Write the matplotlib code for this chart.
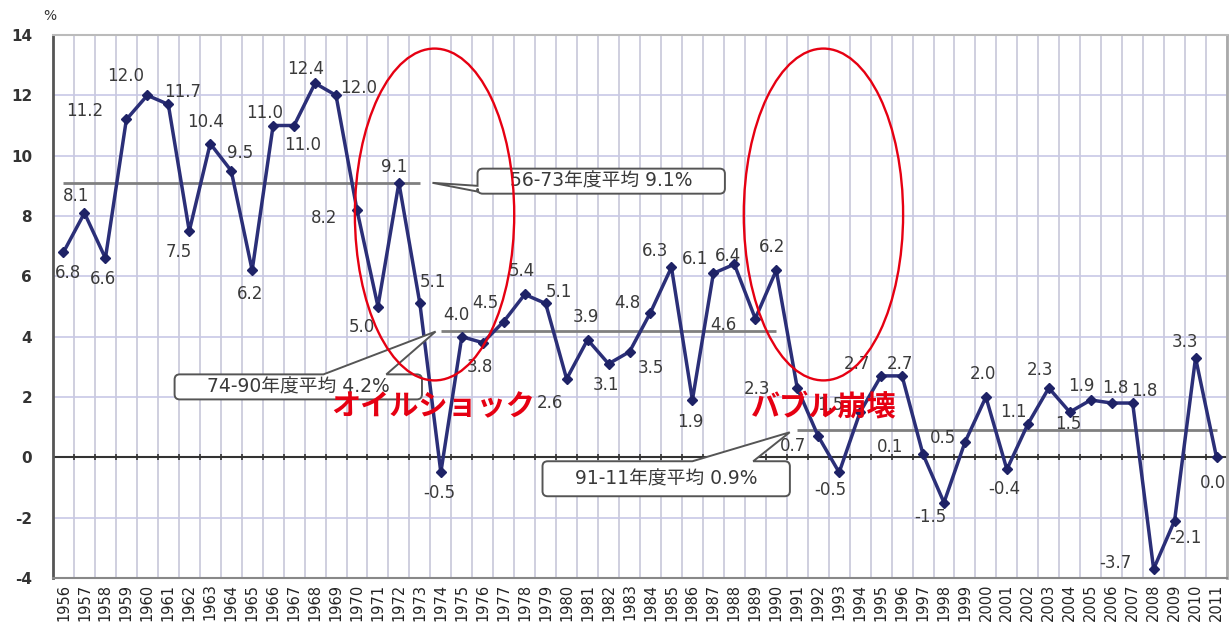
import matplotlib
matplotlib.use("Agg")
import matplotlib.pyplot as plt
from matplotlib.patches import Ellipse, PathPatch
from matplotlib.path import Path
import numpy as np

# Real GDP growth rate by fiscal year (%)
years = list(range(1956, 2012))
growth = [6.8, 8.1, 6.6, 11.2, 12.0, 11.7, 7.5, 10.4, 9.5, 6.2,
          11.0, 11.0, 12.4, 12.0, 8.2, 5.0, 9.1, 5.1, -0.5, 4.0,
          3.8, 4.5, 5.4, 5.1, 2.6, 3.9, 3.1, 3.5, 4.8, 6.3,
          1.9, 6.1, 6.4, 4.6, 6.2, 2.3, 0.7, -0.5, 1.5, 2.7,
          2.7, 0.1, -1.5, 0.5, 2.0, -0.4, 1.1, 2.3, 1.5, 1.9,
          1.8, 1.8, -3.7, -2.1, 3.3, 0.0]

# Period averages
period_start = [1956, 1974, 1991]
period_end = [1973, 1990, 2011]
period_mean = [9.1, 4.2, 0.9]

y_ticks = [-4, -2, 0, 2, 4, 6, 8, 10, 12, 14]
events = ["オイルショック", "バブル崩壊"]

# Value label offsets in pixels (right, down)
label_offsets = [(5, 21), (-8, -17), (-2, 21), (-42, -8), (-22, -19), (14, -12), (-11, 21), (-5, -22), (9, -18), (-2, 24),
                 (-8, -13), (9, 20), (-9, -14), (23, -7), (-33, 8), (-16, 21), (-5, -16), (13, -21), (-2, 21), (-5, -22),
                 (-3, 24), (-18, -19), (-3, -23), (13, -11), (-17, 24), (-2, -23), (-3, 21), (21, 16), (-23, -10), (-16, -16),
                 (-2, 22), (-18, -14), (-6, -8), (-32, 6), (-4, -23), (-40, 1), (-25, 10), (-9, 18), (-30, -7), (-24, -12),
                 (-2, -12), (-33, -7), (-14, 14), (-22, -4), (-3, -23), (-3, 20), (-14, -12), (-9, -18), (-1, 12), (-9, -14),
                 (4, -15), (12, -12), (-38, -6), (11, 17), (-11, -16), (-4, 26)]

CJK = ["DejaVu Sans", "Noto Sans CJK JP"]
TEXT = "#3a3a3a"

fig = plt.figure(figsize=(12.32, 6.23), dpi=100)
ax = fig.add_axes([53 / 1232, 1 - 578 / 623, (1227 - 53) / 1232, (578 - 35) / 623])
ax.set_xlim(years[0] - 0.5, years[-1] + 0.5)
ax.set_ylim(y_ticks[0], y_ticks[-1])

# grid
bounds = np.arange(years[0] - 0.5, years[-1] + 1.0, 1.0)
ax.set_xticks(years)
ax.set_xticklabels([str(y) for y in years], rotation=90, fontsize=10.5,
                   color="#222222", family="DejaVu Sans")
ax.set_xticks(bounds, minor=True)
ax.set_yticks(y_ticks)
ax.set_yticklabels([str(v) for v in y_ticks], fontsize=11, fontweight="bold",
                   color="#333333")
ax.tick_params(axis="both", which="both", length=0)
ax.tick_params(axis="x", pad=4)
ax.tick_params(axis="y", pad=15)
ax.grid(True, axis="x", which="minor", color="#c2c2d6", lw=1.1)
ax.grid(True, axis="y", which="major", color="#c8c8e6", lw=1.2)
ax.set_axisbelow(True)

for side, col, lw in [("left", "#555555", 2.0), ("bottom", "#888888", 1.5),
                      ("top", "#bbbbbb", 1.5), ("right", "#aaaaaa", 2.0)]:
    ax.spines[side].set_color(col)
    ax.spines[side].set_linewidth(lw)

# zero line with small ticks
ax.axhline(0, color="#333333", lw=1.5, zorder=2)
ax.plot(bounds[1:-1], np.zeros(len(bounds) - 2), ls="none", marker="|",
        ms=5, mew=1.2, color="#333333", zorder=2)

# period average lines
for s, e, m in zip(period_start, period_end, period_mean):
    ax.hlines(m, s, e, color="#808080", lw=2, zorder=2)

# growth series
ax.plot(years, growth, color="#2b2f78", lw=2.5, marker="D", ms=5,
        mfc="#1e2266", mec="#1e2266", zorder=4)

for yr, v, (dx, dy) in zip(years, growth, label_offsets):
    ax.annotate(f"{v:.1f}", (yr, v), xytext=(dx, -dy), textcoords="offset pixels",
                ha="center", va="center", fontsize=12, color=TEXT,
                family="DejaVu Sans", zorder=5)


def callout(x0, x1, y0, y1, side, b0, b1, tip, text):
    rx, ry = 0.25, 0.17
    verts = [(x0 + rx, y0), (x1 - rx, y0), (x1, y0), (x1, y0 + ry),
             (x1, y1 - ry), (x1, y1), (x1 - rx, y1)]
    codes = [Path.MOVETO, Path.LINETO, Path.CURVE3, Path.CURVE3,
             Path.LINETO, Path.CURVE3, Path.CURVE3]
    if side == "top":
        verts += [(b1, y1), tip, (b0, y1)]
        codes += [Path.LINETO] * 3
    verts += [(x0 + rx, y1), (x0, y1), (x0, y1 - ry)]
    codes += [Path.LINETO, Path.CURVE3, Path.CURVE3]
    if side == "left":
        verts += [(x0, b1), tip, (x0, b0)]
        codes += [Path.LINETO] * 3
    verts += [(x0, y0 + ry), (x0, y0), (x0 + rx, y0), (x0 + rx, y0)]
    codes += [Path.LINETO, Path.CURVE3, Path.CURVE3, Path.CLOSEPOLY]
    ax.add_patch(PathPatch(Path(verts, codes), fc="white", ec="#555555",
                           lw=1.4, zorder=6))
    ax.text((x0 + x1) / 2, (y0 + y1) / 2, text, ha="center", va="center",
            fontsize=13.5, color=TEXT, family=CJK, zorder=7)


texts = [f"{s % 100:02d}-{e % 100:02d}年度平均 {m}%"
         for s, e, m in zip(period_start, period_end, period_mean)]
callout(1975.75, 1987.55, 8.74, 9.57, "left", 8.81, 9.0, (1973.6, 9.1), texts[0])
callout(1961.3, 1973.1, 1.92, 2.75, "top", 1968.4, 1971.4, (1973.75, 4.17), texts[1])
callout(1978.85, 1990.65, -1.29, -0.13, "top", 1986.0, 1988.9, (1990.64, 0.83), texts[2])

# highlighted periods
for cx in (1973.7, 1992.25):
    ax.add_patch(Ellipse((cx, 8.05), 7.6, 11.0, fill=False, ec="#e60012",
                         lw=1.7, zorder=8))
for cx, txt in zip((1973.65, 1992.25), events):
    ax.text(cx, 1.69, txt, ha="center", va="center", fontsize=21,
            fontweight="bold", color="#e60012", family="Noto Sans CJK JP",
            zorder=9)

fig.text(50 / 1232, 1 - 16 / 623, "%", ha="center", va="center",
         fontsize=10, color="#333333")

fig.savefig("out.png", dpi=100)
